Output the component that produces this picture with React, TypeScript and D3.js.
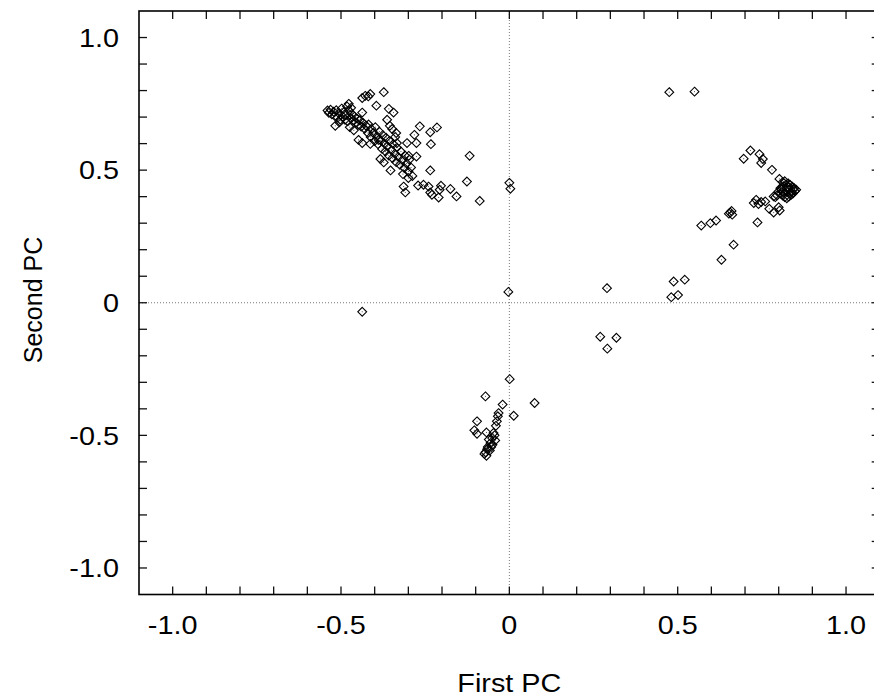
import React from "react";
import * as d3 from "d3";

// ---- data (First PC, Second PC) ----
const upperLeft: [number, number][] = [
  [-0.373, 0.794], [-0.413, 0.787], [-0.419, 0.778], [-0.437, 0.772], [-0.428, 0.780],
  [-0.395, 0.743], [-0.358, 0.731], [-0.344, 0.717], [-0.477, 0.750], [-0.482, 0.740], [-0.470, 0.735],
  [-0.540, 0.725], [-0.536, 0.716], [-0.531, 0.728], [-0.527, 0.710], [-0.522, 0.720], [-0.518, 0.704],
  [-0.514, 0.726], [-0.510, 0.698], [-0.506, 0.714], [-0.502, 0.690], [-0.498, 0.732], [-0.495, 0.702],
  [-0.491, 0.719], [-0.488, 0.690], [-0.485, 0.708], [-0.480, 0.684], [-0.476, 0.724], [-0.472, 0.697],
  [-0.468, 0.712], [-0.464, 0.688], [-0.460, 0.702], [-0.456, 0.680], [-0.452, 0.694], [-0.448, 0.672],
  [-0.444, 0.688], [-0.440, 0.664], [-0.437, 0.717], [-0.434, 0.678], [-0.430, 0.656], [-0.517, 0.667],
  [-0.505, 0.680], [-0.462, 0.650], [-0.474, 0.662],
  [-0.426, 0.668], [-0.420, 0.640], [-0.418, 0.672], [-0.412, 0.625], [-0.410, 0.655], [-0.404, 0.640],
  [-0.400, 0.610], [-0.398, 0.662], [-0.393, 0.628], [-0.390, 0.598], [-0.386, 0.645], [-0.382, 0.612],
  [-0.378, 0.580], [-0.376, 0.632], [-0.371, 0.600], [-0.368, 0.570], [-0.366, 0.622], [-0.362, 0.590],
  [-0.358, 0.555], [-0.356, 0.610], [-0.350, 0.575], [-0.347, 0.545], [-0.345, 0.598], [-0.340, 0.562],
  [-0.336, 0.530], [-0.334, 0.585], [-0.330, 0.550], [-0.325, 0.520], [-0.322, 0.570], [-0.318, 0.538],
  [-0.312, 0.508], [-0.310, 0.555], [-0.305, 0.525], [-0.300, 0.495], [-0.297, 0.540], [-0.292, 0.510],
  [-0.288, 0.478], [-0.300, 0.470], [-0.316, 0.485],
  [-0.363, 0.690], [-0.355, 0.667], [-0.348, 0.655], [-0.336, 0.640], [-0.339, 0.625], [-0.334, 0.602],
  [-0.437, 0.602], [-0.448, 0.614], [-0.413, 0.599], [-0.388, 0.614],
  [-0.383, 0.542], [-0.373, 0.529], [-0.353, 0.499],
  [-0.266, 0.665], [-0.235, 0.643], [-0.215, 0.661], [-0.282, 0.633], [-0.304, 0.602], [-0.276, 0.602],
  [-0.233, 0.598], [-0.299, 0.554], [-0.276, 0.551], [-0.235, 0.499],
  [-0.118, 0.554], [-0.126, 0.457], [-0.088, 0.384],
  [-0.314, 0.438], [-0.309, 0.416], [-0.271, 0.442],
  [-0.255, 0.445], [-0.240, 0.438], [-0.235, 0.416], [-0.230, 0.407], [-0.210, 0.397], [-0.207, 0.426],
  [-0.203, 0.441], [-0.175, 0.429], [-0.157, 0.401],
];

const upperRight: [number, number][] = [
  [0.475, 0.794], [0.550, 0.796],
  [0.716, 0.574], [0.696, 0.543], [0.743, 0.560], [0.753, 0.542], [0.748, 0.527], [0.780, 0.501],
  [0.802, 0.467], [0.812, 0.455],
  [0.785, 0.401], [0.805, 0.432], [0.726, 0.376], [0.733, 0.388], [0.740, 0.372], [0.748, 0.380],
  [0.760, 0.382], [0.772, 0.354], [0.785, 0.340], [0.803, 0.348], [0.800, 0.360], [0.737, 0.303],
  [0.656, 0.340], [0.660, 0.346], [0.652, 0.336], [0.662, 0.332],
  [0.570, 0.291], [0.597, 0.300], [0.614, 0.310], [0.666, 0.219], [0.630, 0.162],
  [0.290, 0.055], [0.488, 0.080], [0.521, 0.087], [0.481, 0.021], [0.501, 0.029],
  [0.800, 0.420], [0.806, 0.412], [0.812, 0.404], [0.818, 0.398], [0.824, 0.394], [0.830, 0.400],
  [0.836, 0.406], [0.842, 0.412], [0.848, 0.420], [0.852, 0.426], [0.846, 0.432], [0.840, 0.438],
  [0.834, 0.444], [0.828, 0.450], [0.822, 0.446], [0.816, 0.440], [0.810, 0.434], [0.820, 0.425],
  [0.826, 0.418], [0.832, 0.426], [0.838, 0.420], [0.814, 0.418], [0.824, 0.432], [0.844, 0.428],
  [0.808, 0.426], [0.795, 0.405], [0.790, 0.398], [0.818, 0.458], [0.830, 0.435], [0.836, 0.414],
];

const lowerMiddle: [number, number][] = [
  [0.001, -0.288], [-0.071, -0.353], [-0.020, -0.384], [0.075, -0.378], [0.013, -0.426],
  [-0.032, -0.416], [-0.034, -0.428], [-0.037, -0.447], [-0.040, -0.464], [-0.096, -0.447],
  [-0.104, -0.481], [-0.096, -0.494], [-0.068, -0.489], [-0.047, -0.491], [-0.051, -0.510],
  [-0.042, -0.519], [-0.061, -0.516], [-0.056, -0.529], [-0.064, -0.544], [-0.054, -0.544],
  [-0.071, -0.564], [-0.068, -0.577], [-0.074, -0.570], [-0.058, -0.557], [-0.044, -0.500],
  [-0.050, -0.535], [-0.066, -0.552],
];

const scattered: [number, number][] = [
  [0.000, 0.452], [0.003, 0.430], [-0.003, 0.041], [-0.437, -0.034],
  [0.270, -0.128], [0.318, -0.132], [0.291, -0.173],
];

const minorTicks = d3.range(-10, 11).map((i) => i / 10);
const labelTicks = [-1.0, -0.5, 0, 0.5, 1.0];
const tickText = (v: number) => (v === 0 ? "0" : v.toFixed(1));
const xTitle = "First PC";
const yTitle = "Second PC";

export default function App() {
  const W = 874, H = 699;
  const left = 139, right = 879.7, top = 11, bottom = 594.5;
  const x = d3.scaleLinear().domain([-1.1, 1.1]).range([left, right]);
  const y = d3.scaleLinear().domain([-1.1, 1.1]).range([bottom, top]);
  const points = [...upperLeft, ...upperRight, ...lowerMiddle, ...scattered];
  const tl = 8;
  const font = "'Liberation Sans', Arial, Helvetica, sans-serif";
  const diamond = (cx: number, cy: number, r: number) =>
    `M${cx},${cy - r}L${cx + r},${cy}L${cx},${cy + r}L${cx - r},${cy}Z`;

  return (
    <svg width={W} height={H} style={{ position: "absolute", left: 0, top: 0, background: "#fff" }}>
      <rect x={0} y={0} width={W} height={H} fill="#fff" />
      {/* zero lines */}
      <line x1={x(0)} x2={x(0)} y1={top} y2={bottom} stroke="#777" strokeWidth={1} strokeDasharray="1,2" />
      <line x1={left} x2={right} y1={y(0)} y2={y(0)} stroke="#777" strokeWidth={1} strokeDasharray="1,2" />
      {/* ticks */}
      {minorTicks.map((t) => (
        <g key={"t" + t} stroke="#111" strokeWidth={1.3}>
          <line x1={x(t)} x2={x(t)} y1={bottom} y2={bottom - tl} />
          <line x1={x(t)} x2={x(t)} y1={top} y2={top + tl} />
          <line x1={left} x2={left + tl} y1={y(t)} y2={y(t)} />
          <line x1={right} x2={right - tl} y1={y(t)} y2={y(t)} />
        </g>
      ))}
      <rect x={left} y={top} width={right - left} height={bottom - top} fill="none" stroke="#000" strokeWidth={1.6} />
      {/* points */}
      {points.map(([px, py], i) => (
        <g key={"p" + i}>
          <path d={diamond(x(px), y(py), 4.4)} fill="none" stroke="#000" strokeWidth={1.1} />
          <rect x={x(px) - 0.5} y={y(py) - 0.5} width={1} height={1} fill="#555" />
        </g>
      ))}
      {/* tick labels */}
      {labelTicks.map((t) => (
        <text key={"xl" + t} transform={`translate(${x(t)},634) scale(1.13,1)`} textAnchor="middle"
          fontFamily={font} fontSize={25.5} fill="#000">{tickText(t)}</text>
      ))}
      {labelTicks.map((t) => (
        <text key={"yl" + t} transform={`translate(119,${y(t) + 9.2}) scale(1.13,1)`} textAnchor="end"
          fontFamily={font} fontSize={25.5} fill="#000">{tickText(t)}</text>
      ))}
      <text transform={`translate(${(left + right) / 2},692) scale(1.13,1)`} textAnchor="middle"
        fontFamily={font} fontSize={25.5} fill="#000">{xTitle}</text>
      <text transform={`translate(41.7,300) rotate(-90)`} textAnchor="middle"
        fontFamily={font} fontSize={25} fill="#000">{yTitle}</text>
    </svg>
  );
}
